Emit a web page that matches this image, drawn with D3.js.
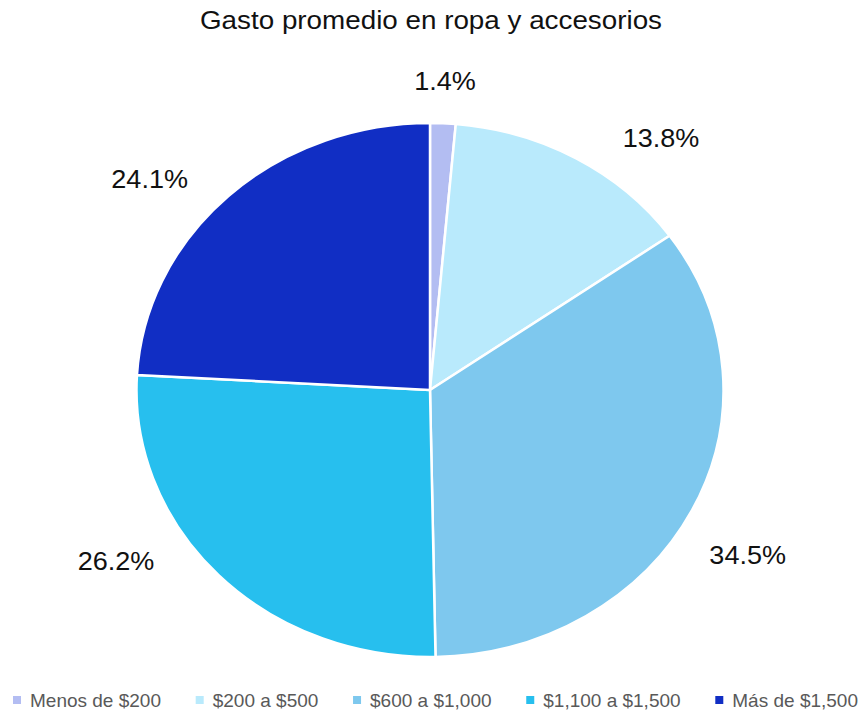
<!DOCTYPE html>
<html>
<head>
<meta charset="utf-8">
<script src="https://cdn.jsdelivr.net/npm/d3@7"></script>
<style>
  html, body { margin: 0; padding: 0; background: #ffffff; }
  svg { display: block; }
</style>
</head>
<body>
<svg id="chart" width="862" height="715"></svg>
<script>
// Spending brackets and their share of respondents (%)
const categories = ["Menos de $200", "$200 a $500", "$600 a $1,000", "$1,100 a $1,500", "Más de $1,500"];
const shares = [1.4, 13.8, 34.5, 26.2, 24.1];
const colors = ["#b3bdf2", "#b9eafc", "#7ec8ee", "#27bfee", "#112ec4"];
const title = "Gasto promedio en ropa y accesorios";

// Layout
const W = 862, H = 715;
const cx = 430, cy = 390;
const ry = 267;            // vertical radius
const sx = 293.5 / 267;    // horizontal stretch of the pie
const labelGap = 31;
const labelTurn = [0, 10, 3, 13, -7];   // degrees, to keep labels clear of each other
const labelFont = 26;

const svg = d3.select("#chart");

// Title
svg.append("text")
  .attr("x", 0)
  .attr("y", 0)
  .attr("text-anchor", "middle")
  .attr("font-family", "'Liberation Sans', Arial, sans-serif")
  .attr("font-size", 26)
  .attr("fill", "#111")
  .attr("transform", "translate(431,29) scale(1.07,1)")
  .text(title);

const data = categories.map((c, i) => ({ name: c, value: shares[i], color: colors[i], i }));

const pie = d3.pie().value(d => d.value).sort(null);
const arcs = pie(data);
const arc = d3.arc().innerRadius(0).outerRadius(ry);

const g = svg.append("g").attr("transform", `translate(${cx},${cy}) scale(${sx},1)`);
g.selectAll("path")
  .data(arcs)
  .join("path")
  .attr("d", arc)
  .attr("fill", d => d.data.color)
  .attr("stroke", "#ffffff")
  .attr("stroke-width", 2.5)
  .attr("stroke-linejoin", "round")
  .attr("vector-effect", "non-scaling-stroke");

// Percentage labels, placed just outside each slice
const labels = svg.append("g");
arcs.forEach((a, k) => {
  const t = labels.append("text")
    .attr("font-family", "'Liberation Sans', Arial, sans-serif")
    .attr("font-size", labelFont)
    .attr("fill", "#111")
    .attr("text-anchor", "middle")
    .attr("dominant-baseline", "central")
    .text(d3.format(".1f")(a.data.value) + "%");
  const w = t.node().getComputedTextLength() * 1.04;
  const h = labelFont * 0.75;
  const theta = (a.startAngle + a.endAngle) / 2 + labelTurn[k] * Math.PI / 180;
  const s = Math.sin(theta), c = Math.cos(theta);
  const support = Math.abs(s) * (w / sx) / 2 + Math.abs(c) * h / 2;
  const d = ry + labelGap + support;
  const x = cx + d * s * sx;
  const y = cy - d * c;
  t.attr("x", 0).attr("y", 0)
   .attr("transform", `translate(${x},${y}) scale(1.04,1)`);
});

// Legend along the bottom edge
const legend = svg.append("g");
const items = data.map(d => {
  const gi = legend.append("g");
  gi.append("rect").attr("width", 8).attr("height", 8).attr("fill", d.color);
  const tx = gi.append("text")
    .attr("x", 17)
    .attr("y", 4)
    .attr("dominant-baseline", "central")
    .attr("font-family", "'Liberation Sans Narrow', 'Liberation Sans', Arial, sans-serif")
    .attr("font-size", 19)
    .attr("fill", "#595959")
    .text(d.name);
  return { gi, width: 17 + tx.node().getComputedTextLength() };
});
const x0 = 13, x1 = 858;
const total = d3.sum(items, d => d.width);
const gap = (x1 - x0 - total) / (items.length - 1);
let xpos = x0;
items.forEach(it => {
  it.gi.attr("transform", `translate(${xpos},696)`);
  xpos += it.width + gap;
});
</script>
</body>
</html>
